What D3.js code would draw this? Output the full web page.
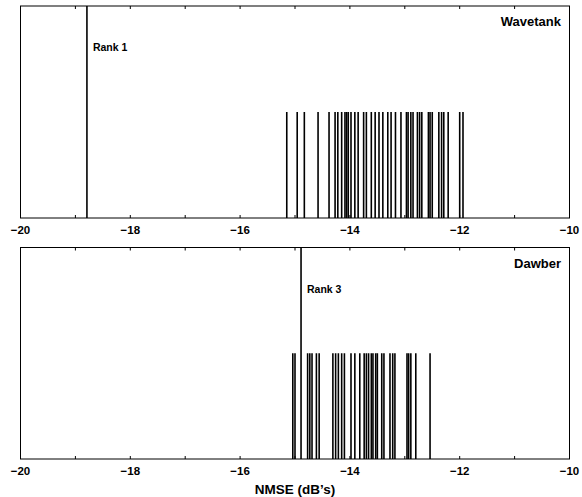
<!DOCTYPE html>
<meta charset="utf-8">
<html>
<head>
<title>NMSE ranks</title>
<script src="https://d3js.org/d3.v7.min.js"></script>
<style>
  body { margin: 0; background: #fff; }
  text { font-family: "Liberation Sans", Arial, sans-serif; font-weight: bold; fill: #000; }
  .stem { stroke: #000; stroke-width: 1.6px; }
</style>
</head>
<body>
<script>
// NMSE of each candidate (dB)
var wavetankValues = [-15.15, -14.96, -14.83, -14.58, -14.38, -14.27, -14.22, -14.15, -14.09,
  -14.06, -14.03, -13.98, -13.91, -13.85, -13.75, -13.70, -13.61, -13.54, -13.47, -13.40,
  -13.31, -13.25, -13.17, -13.07, -12.97, -12.94, -12.89, -12.85, -12.77, -12.73, -12.69,
  -12.57, -12.54, -12.50, -12.38, -12.33, -12.29, -12.21, -12.00, -11.94];
var wavetankRank = { value: -18.79, label: "Rank 1" };

var dawberValues = [-15.04, -15.00, -14.77, -14.73, -14.69, -14.61, -14.56, -14.31, -14.26,
  -14.21, -14.15, -14.10, -13.98, -13.91, -13.82, -13.74, -13.70, -13.66, -13.61, -13.58,
  -13.53, -13.50, -13.42, -13.38, -13.27, -13.22, -13.18, -12.96, -12.93, -12.89, -12.80, -12.54];
var dawberRank = { value: -14.89, label: "Rank 3" };

var xTicks = [-20, -19, -18, -17, -16, -15, -14, -13, -12, -11, -10];
var xLabels = [-20, -18, -16, -14, -12, -10];

var width = 582, height = 497;
var svg = d3.select("body").append("svg").attr("width", width).attr("height", height);

var x = d3.scaleLinear().domain([-20, -10]).range([20.5, 569.5]);

function panel(top, bottom, values, rank, name) {
  var y = d3.scaleLinear().domain([0, 1]).range([bottom, top]);
  var g = svg.append("g");

  // stems for the other candidates
  g.selectAll("line.stem").data(values).enter().append("line")
    .attr("class", "stem")
    .attr("x1", function (d) { return x(d); })
    .attr("x2", function (d) { return x(d); })
    .attr("y1", y(0)).attr("y2", y(0.5));

  // ranked candidate
  g.append("line").attr("class", "stem")
    .style("stroke-width", "1.6px")
    .attr("x1", x(rank.value)).attr("x2", x(rank.value))
    .attr("y1", y(0)).attr("y2", y(1));
  g.append("text").attr("x", x(rank.value) + 6).attr("y", top + 45)
    .style("font-size", "10.5px").text(rank.label);

  // frame
  g.append("rect").attr("x", x(-20)).attr("y", top)
    .attr("width", x(-10) - x(-20)).attr("height", bottom - top)
    .attr("fill", "none").attr("stroke", "#000").attr("stroke-width", 1);

  // ticks inside on top and bottom
  g.selectAll("line.tb").data(xTicks).enter().append("line")
    .attr("x1", function (d) { return x(d); }).attr("x2", function (d) { return x(d); })
    .attr("y1", bottom).attr("y2", bottom - 3).attr("stroke", "#000");
  g.selectAll("line.tt").data(xTicks).enter().append("line")
    .attr("x1", function (d) { return x(d); }).attr("x2", function (d) { return x(d); })
    .attr("y1", top).attr("y2", top + 3).attr("stroke", "#000");

  g.selectAll("text.tl").data(xLabels).enter().append("text")
    .attr("x", function (d) { return x(d); }).attr("y", bottom + 16)
    .attr("text-anchor", "middle").style("font-size", "11.5px")
    .text(function (d) { return "\u2212" + Math.abs(d); });

  g.append("text").attr("x", 561).attr("y", top + 20)
    .attr("text-anchor", "end").style("font-size", "13px").text(name);
}

panel(6, 218, wavetankValues, wavetankRank, "Wavetank");
panel(247.5, 459, dawberValues, dawberRank, "Dawber");

svg.append("text").attr("x", x(-15)).attr("y", 494)
  .attr("text-anchor", "middle").style("font-size", "13.5px").text("NMSE (dB\u2019s)");
</script>
</body>
</html>
